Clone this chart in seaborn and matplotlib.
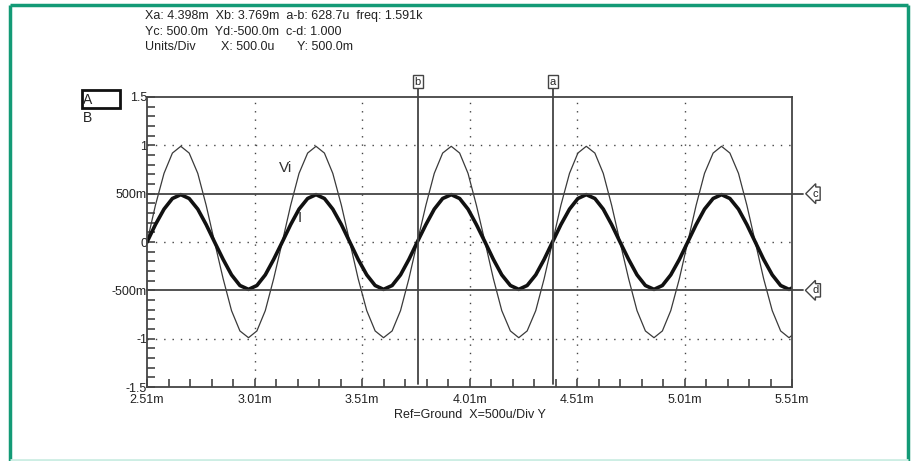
import numpy as np
import pandas as pd
import matplotlib
matplotlib.use("Agg")
import matplotlib.pyplot as plt
from matplotlib.patches import Rectangle
import seaborn as sns

# sample times in ms
t_ms = [2.510, 2.549, 2.589, 2.628, 2.667, 2.706, 2.746, 2.785, 2.824, 2.864,
        2.903, 2.942, 2.982, 3.021, 3.060, 3.099, 3.139, 3.178, 3.217, 3.257,
        3.296, 3.335, 3.374, 3.414, 3.453, 3.492, 3.532, 3.571, 3.610, 3.650,
        3.689, 3.728, 3.767, 3.807, 3.846, 3.885, 3.925, 3.964, 4.003, 4.042,
        4.082, 4.121, 4.160, 4.200, 4.239, 4.278, 4.318, 4.357, 4.396, 4.435,
        4.475, 4.514, 4.553, 4.593, 4.632, 4.671, 4.710, 4.750, 4.789, 4.828,
        4.868, 4.907, 4.946, 4.986, 5.025, 5.064, 5.103, 5.143, 5.182, 5.221,
        5.261, 5.300, 5.339, 5.378, 5.418, 5.457, 5.496, 5.536]

# input voltage Vi (V)
vi = [0.00, 0.38, 0.71, 0.92, 0.99, 0.92, 0.71, 0.38, 0.00, -0.38, -0.71, -0.92, -0.99, -0.92, -0.71, -0.38,
      0.00, 0.38, 0.71, 0.92, 0.99, 0.92, 0.71, 0.38, 0.00, -0.38, -0.71, -0.92, -0.99, -0.92, -0.71, -0.38,
      0.00, 0.38, 0.71, 0.92, 0.99, 0.92, 0.71, 0.38, 0.00, -0.38, -0.71, -0.92, -0.99, -0.92, -0.71, -0.38,
      0.00, 0.38, 0.71, 0.92, 0.99, 0.92, 0.71, 0.38, 0.00, -0.38, -0.71, -0.92, -0.99, -0.92, -0.71, -0.38,
      0.00, 0.38, 0.71, 0.92, 0.99, 0.92, 0.71, 0.38, 0.00, -0.38, -0.71, -0.92, -0.99, -0.92]

# current I
i_cur = [0.00, 0.18, 0.34, 0.45, 0.49, 0.45, 0.34, 0.18, 0.00, -0.18, -0.34, -0.45, -0.49, -0.45, -0.34, -0.18,
         0.00, 0.18, 0.34, 0.45, 0.49, 0.45, 0.34, 0.18, 0.00, -0.18, -0.34, -0.45, -0.49, -0.45, -0.34, -0.18,
         0.00, 0.18, 0.34, 0.45, 0.49, 0.45, 0.34, 0.18, 0.00, -0.18, -0.34, -0.45, -0.49, -0.45, -0.34, -0.18,
         0.00, 0.18, 0.34, 0.45, 0.49, 0.45, 0.34, 0.18, 0.00, -0.18, -0.34, -0.45, -0.49, -0.45, -0.34, -0.18,
         0.00, 0.18, 0.34, 0.45, 0.49, 0.45, 0.34, 0.18, 0.00, -0.18, -0.34, -0.45, -0.49, -0.45]

x_ticks = [2.51, 3.01, 3.51, 4.01, 4.51, 5.01, 5.51]
x_labels = ["2.51m", "3.01m", "3.51m", "4.01m", "4.51m", "5.01m", "5.51m"]
y_ticks = [-1.5, -1.0, -0.5, 0.0, 0.5, 1.0, 1.5]
y_labels = ["-1.5", "-1", "-500m", "0", "500m", "1", "1.5"]

cursor_x = {"b": 3.769, "a": 4.398}
cursor_y = {"c": 0.5, "d": -0.5}

header = ["Xa: 4.398m  Xb: 3.769m  a-b: 628.7u  freq: 1.591k",
          "Yc: 500.0m  Yd:-500.0m  c-d: 1.000"]

sns.set_style("white")
plt.rcParams["font.family"] = ["Liberation Sans", "DejaVu Sans"]
plt.rcParams["font.size"] = 9

df = pd.DataFrame({"t": t_ms, "Vi": vi, "I": i_cur})

fig = plt.figure(figsize=(9.11, 4.61), dpi=100)
ax = fig.add_axes([0.1614, 0.1605, 0.708, 0.6291])

grey = "#444444"
txt = "#222222"
sns.lineplot(data=df, x="t", y="Vi", ax=ax, color="#3a3a3a", linewidth=0.9, estimator=None, sort=False)
sns.lineplot(data=df, x="t", y="I", ax=ax, color="#111111", linewidth=2.6, estimator=None, sort=False)

ax.set_xlim(2.51, 5.51)
ax.set_ylim(-1.5, 1.5)
ax.set_xticks(x_ticks)
ax.set_xticklabels(x_labels)
ax.set_yticks(y_ticks)
ax.set_yticklabels(y_labels)
ax.set_xticks(np.arange(2.51, 5.515, 0.1), minor=True)
ax.set_yticks(np.arange(-1.5, 1.55, 0.1), minor=True)
ax.tick_params(which="both", direction="in", length=6, width=1.2, color=grey,
               labelsize=9, labelcolor=txt, bottom=True, left=True, top=False, right=False)
ax.tick_params(axis="y", which="both", pad=0)
ax.tick_params(axis="x", which="both", pad=5)

for s in ax.spines.values():
    s.set_color(grey)
    s.set_linewidth(1.3)

dot = (0, (1, 5))
for xv in x_ticks[1:-1]:
    ax.axvline(xv, color=grey, lw=1, ls=dot, zorder=0)
for yv in [1.0, 0.0, -1.0]:
    ax.axhline(yv, color=grey, lw=1, ls=dot, zorder=0)

ax.set_xlabel("Ref=Ground  X=500u/Div Y", fontsize=9, labelpad=2, color=txt)
ax.set_ylabel("")

# cursors
for name, xv in cursor_x.items():
    ax.plot([xv, xv], [-1.47, 1.62], color=grey, lw=1.3, clip_on=False)
    ax.text(xv, 1.66, name, ha="center", va="center", fontsize=8, clip_on=False,
            bbox=dict(boxstyle="square,pad=0.15", fc="white", ec=grey, lw=1))
for name, yv in cursor_y.items():
    ax.plot([2.51, 5.56], [yv, yv], color=grey, lw=1.3, clip_on=False)
    ax.text(5.62, yv, name, ha="center", va="center", fontsize=8, clip_on=False,
            bbox=dict(boxstyle="larrow,pad=0.15", fc="white", ec=grey, lw=1))

ax.text(3.152, 0.77, "Vi", fontsize=11, color="#333333", ha="center", va="center")
ax.text(3.22, 0.25, "I", fontsize=11, color="#333333", ha="center", va="center")

# header text
fig.text(0.159, 0.965, header[0], fontsize=9, va="center", color=txt)
fig.text(0.159, 0.931, header[1], fontsize=9, va="center", color=txt)
fig.text(0.159, 0.897, "Units/Div", fontsize=9, va="center", color=txt)
fig.text(0.243, 0.897, "X: 500.0u", fontsize=9, va="center", color=txt)
fig.text(0.326, 0.897, "Y: 500.0m", fontsize=9, va="center", color=txt)

# A/B trace selector
fig.patches.append(Rectangle((0.090, 0.765), 0.042, 0.039, transform=fig.transFigure,
                             fill=False, ec="#111111", lw=2))
fig.text(0.091, 0.783, "A", fontsize=10, va="center", color=txt)
fig.text(0.091, 0.743, "B", fontsize=10, va="center", color=txt)

# outer frame
green = "#139a76"
fig.patches.append(Rectangle((0.0115, 0.0), 0.0, 0.989, transform=fig.transFigure,
                             fill=False, ec=green, lw=2.5))
fig.patches.append(Rectangle((0.0115, 0.989), 0.985, 0.0, transform=fig.transFigure,
                             fill=False, ec=green, lw=2.5))
fig.patches.append(Rectangle((0.9965, 0.0), 0.0, 0.989, transform=fig.transFigure,
                             fill=False, ec=green, lw=2.5))
fig.patches.append(Rectangle((0.0115, 0.003), 0.985, 0.0, transform=fig.transFigure,
                             fill=False, ec="#cdeee4", lw=2))

fig.savefig("out.png", dpi=100)
